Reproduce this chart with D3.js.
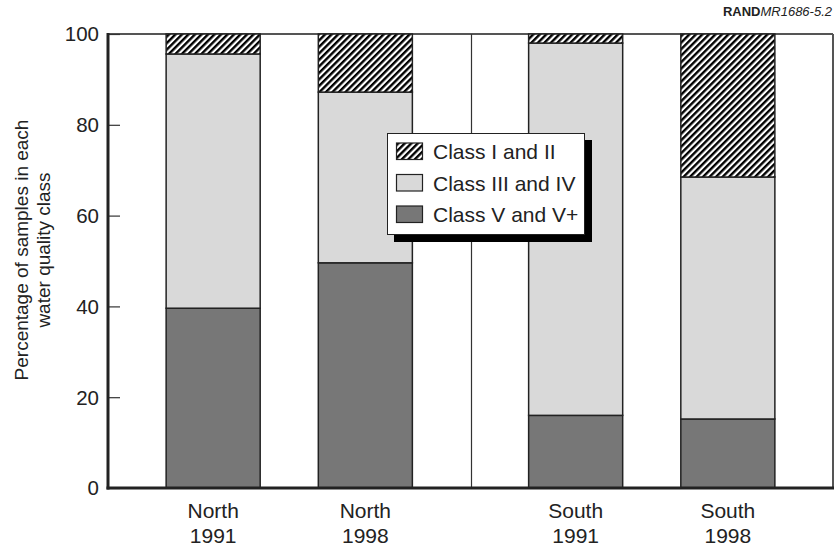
<!DOCTYPE html>
<html><head><meta charset="utf-8">
<script src="https://cdn.jsdelivr.net/npm/d3@7"></script>
<style>body{margin:0;background:#fff}svg{display:block;font-family:Helvetica,Arial,"Liberation Sans",sans-serif}</style>
</head><body>
<script>
const regions = ["North","South"];
const years = ["1991","1998"];
const categories = ["North 1991","North 1998","South 1991","South 1998"];
const classVV = [39.6, 49.6, 16.0, 15.2];
const classIIIIV = [56.0, 37.6, 82.0, 53.3];
const classIII = [4.4, 12.8, 2.0, 31.5];
const seriesNames = ["Class V and V+","Class III and IV","Class I and II"];
const yTicks = [0,20,40,60,80,100];

const W=839,H=548;
const svg=d3.select("body").append("svg").attr("width",W).attr("height",H);
const defs=svg.append("defs");
const pat=defs.append("pattern").attr("id","hatch").attr("patternUnits","userSpaceOnUse")
  .attr("width",4.6).attr("height",4.6).attr("patternTransform","rotate(45)");
pat.append("rect").attr("width",4.6).attr("height",4.6).attr("fill","#fff");
pat.append("rect").attr("x",0).attr("width",2.4).attr("height",4.6).attr("fill","#000");

const mL=108,mR=833,mT=34,mB=488;
const FS=21;
const y=d3.scaleLinear().domain([0,100]).range([mB,mT]);
const xOuter=d3.scaleBand().domain(regions).range([mL,mR]).padding(0);
const xInner=d3.scaleBand().domain(years).range([0,xOuter.bandwidth()]).padding(0.382);
const bw=xInner.bandwidth();
const xOf=c=>{const [r,yr]=c.split(" ");return xOuter(r)+xInner(yr);};
const cOf=c=>xOf(c)+bw/2;
const fills=["#777777","#d9d9d9","url(#hatch)"];

// frame top & right
svg.append("line").attr("x1",mL).attr("x2",mR).attr("y1",mT).attr("y2",mT).attr("stroke","#555").attr("stroke-width",2);
svg.append("line").attr("x1",mR).attr("x2",mR).attr("y1",mT).attr("y2",mB).attr("stroke","#555").attr("stroke-width",2);
// divider
const dx=Math.round(xOuter("South"))+0.5;
svg.append("line").attr("x1",dx).attr("x2",dx).attr("y1",mT).attr("y2",mB).attr("stroke","#333").attr("stroke-width",1.2);

const data=categories.map((c,i)=>({cat:c,vals:[classVV[i],classIIIIV[i],classIII[i]]}));
data.forEach(d=>{
  let cum=0;
  d.vals.forEach((v,k)=>{
    svg.append("rect").attr("x",xOf(d.cat)).attr("width",bw)
      .attr("y",y(cum+v)).attr("height",y(cum)-y(cum+v))
      .attr("fill",fills[k]).attr("stroke","#222").attr("stroke-width",1.5);
    cum+=v;
  });
});

// y axis ticks (inside)
const yAxis=d3.axisRight(y).tickValues(yTicks).tickSize(12).tickFormat("");
const ga=svg.append("g").attr("transform",`translate(${mL},0)`).call(yAxis);
ga.select(".domain").remove();
ga.selectAll("line").attr("stroke","#333").attr("stroke-width",1.2);
svg.selectAll(".ylab").data(yTicks).enter().append("text")
  .attr("x",99).attr("y",d=>y(d)).attr("dy","0.36em").attr("text-anchor","end")
  .attr("font-size",20.5).attr("fill","#222").text(d=>d);
// axis lines
svg.append("line").attr("x1",mL).attr("x2",mL).attr("y1",mT-1).attr("y2",mB+1.5).attr("stroke","#222").attr("stroke-width",3);
svg.append("line").attr("x1",mL-1.5).attr("x2",mR+1).attr("y1",mB).attr("y2",mB).attr("stroke","#222").attr("stroke-width",3);

// x labels
categories.forEach(c=>{
  const [a,b]=c.split(" ");
  const t=svg.append("text").attr("text-anchor","middle").attr("font-size",FS).attr("fill","#222");
  t.append("tspan").attr("x",cOf(c)).attr("y",518).text(a);
  t.append("tspan").attr("x",cOf(c)).attr("y",543).text(b);
});

// y title
const yt=svg.append("text").attr("transform","translate(0,250) rotate(-90)").attr("text-anchor","middle").attr("font-size",19).attr("fill","#222");
yt.append("tspan").attr("x",0).attr("y",28).text("Percentage of samples in each");
yt.append("tspan").attr("x",0).attr("y",50).text("water quality class");

// RAND label
const rt=svg.append("text").attr("x",832).attr("y",16).attr("text-anchor","end").attr("font-size",13).attr("fill","#222");
rt.append("tspan").attr("font-weight","bold").text("RAND");
rt.append("tspan").attr("font-style","italic").text("MR1686-5.2");

// legend
const lg=svg.append("g");
lg.append("rect").attr("x",394).attr("y",140).attr("width",198).attr("height",102).attr("fill","#000");
lg.append("rect").attr("x",387.5).attr("y",133.5).attr("width",197).attr("height",101).attr("fill","#fff").attr("stroke","#222").attr("stroke-width",1);
const legendOrder=[2,1,0];
legendOrder.forEach((k,i)=>{
  const yy=143+i*31.5;
  lg.append("rect").attr("x",396.5).attr("y",yy).attr("width",26).attr("height",16.5).attr("fill",fills[k]).attr("stroke","#222").attr("stroke-width",1.2);
  lg.append("text").attr("x",433).attr("y",yy+16).attr("font-size",FS).attr("fill","#222").text(seriesNames[k]);
});
</script>
</body></html>
